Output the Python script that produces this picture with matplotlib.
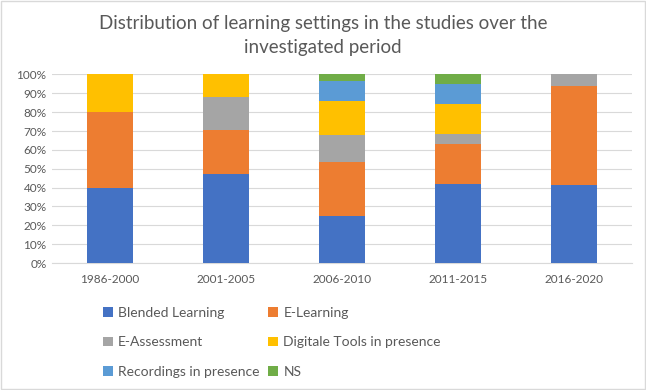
import matplotlib
matplotlib.use("Agg")
import matplotlib.pyplot as plt
import numpy as np

categories = ["1986-2000", "2001-2005", "2006-2010", "2011-2015", "2016-2020"]
series_names = ["Blended Learning", "E-Learning", "E-Assessment",
                "Digitale Tools in presence", "Recordings in presence", "NS"]
# study counts per period (shown as percentage shares)
blended = [2, 8, 7, 8, 7]
elearning = [2, 4, 8, 4, 9]
eassessment = [0, 3, 4, 1, 1]
digitale = [1, 2, 5, 3, 0]
recordings = [0, 0, 3, 2, 0]
ns = [0, 0, 1, 1, 0]
colors = ["#4472C4", "#ED7D31", "#A5A5A5", "#FFC000", "#5B9BD5", "#70AD47"]
yticks = [0, 10, 20, 30, 40, 50, 60, 70, 80, 90, 100]

plt.rcParams['font.family'] = ['Lato', 'DejaVu Sans']

data = np.array([blended, elearning, eassessment, digitale, recordings, ns], dtype=float)
shares = data / data.sum(axis=0) * 100

fig = plt.figure(figsize=(6.46, 3.9), dpi=100)
ax = fig.add_axes([0.0805, 0.3256, 0.8975, 0.4834])
x = np.arange(len(categories))
bottom = np.zeros(len(categories))
handles = []
for name, vals, c in zip(series_names, shares, colors):
    h = ax.bar(x, vals, width=0.4, bottom=bottom, color=c, label=name, zorder=3)
    handles.append(h)
    bottom += vals

ax.set_xlim(-0.5, len(categories) - 0.5)
ax.set_ylim(0, 100)
ax.set_yticks(yticks)
ax.set_yticklabels([f"{v}%" for v in yticks])
ax.set_xticks(x)
ax.set_xticklabels(categories)
ax.tick_params(axis='both', length=0, labelsize=8.5, colors="#595959")
ax.tick_params(axis='x', pad=8)
ax.tick_params(axis='y', pad=4)
ax.grid(axis='y', color="#D9D9D9", linewidth=0.8, zorder=0)
for s in ["top", "right", "left"]:
    ax.spines[s].set_visible(False)
ax.spines["bottom"].set_color("#D9D9D9")

fig.text(0.5, 0.909, "Distribution of learning settings in the studies over the\ninvestigated period",
         ha="center", va="center", fontsize=13.5, color="#595959", linespacing=1.45)

# row-major legend order (as in the reference): reorder for matplotlib's column fill
order = [0, 2, 4, 1, 3, 5]
fig.legend(handles=[handles[i] for i in order], labels=[series_names[i] for i in order],
           ncol=2, loc="upper left",
           bbox_to_anchor=(0.14, 0.245), frameon=False, fontsize=10,
           labelcolor="#595959", handlelength=0.7, handleheight=0.7,
           handletextpad=0.4, columnspacing=0.6, labelspacing=1.25)

border = plt.Rectangle((0.001, 0.002), 0.997, 0.995, transform=fig.transFigure,
                       fill=False, edgecolor="#D9D9D9", linewidth=1)
fig.add_artist(border)

fig.savefig("out.png", dpi=100)
